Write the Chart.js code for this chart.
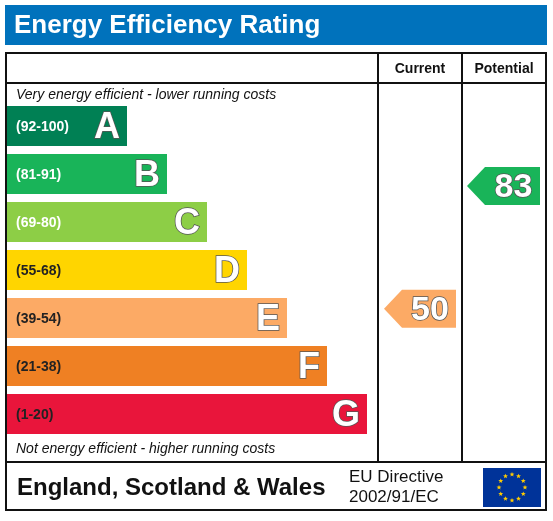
<!DOCTYPE html>
<html><head><meta charset="utf-8">
<script src="https://cdn.jsdelivr.net/npm/chart.js@4"></script>
<style>html,body{margin:0;padding:0;background:#fff}#wrap{width:553px;height:521px}</style>
</head><body><div id="wrap"><canvas id="c" width="553" height="521"></canvas></div>
<script>
const bandLetters = ['A','B','C','D','E','F','G'];
const bandRanges = ['(92-100)','(81-91)','(69-80)','(55-68)','(39-54)','(21-38)','(1-20)'];
const bandMin = [92,81,69,55,39,21,1];
const bandMax = [100,91,80,68,54,38,20];
const bandLengths = [3,4,5,6,7,8,9];
const bandColors = ['#008054','#19b459','#8dce46','#ffd500','#fcaa65','#ef8023','#e9153b'];
const rangeTextColors = ['#fff','#fff','#fff','#222','#222','#222','#222'];
const currentRating = [50];
const potentialRating = [83];

function bandOf(v){for(let i=0;i<7;i++){if(v>=bandMin[i]&&v<=bandMax[i])return i;}return 6;}

const epc = {
  id:'epc',
  beforeDraw(chart){
    const c=chart.ctx;
    c.save();
    c.fillStyle='#fff';c.fillRect(0,0,553,521);
    c.fillStyle='#0072bc';c.fillRect(5,5,542,40);
    c.fillStyle='#fff';c.font='bold 26px "Liberation Sans", Arial';c.textBaseline='middle';
    c.fillText('Energy Efficiency Rating',14,26);
    c.strokeStyle='#111';c.lineWidth=2;
    c.strokeRect(6,53,540,457);
    c.beginPath();
    c.moveTo(6,83);c.lineTo(546,83);
    c.moveTo(6,462);c.lineTo(546,462);
    c.moveTo(378,53);c.lineTo(378,462);
    c.moveTo(462,53);c.lineTo(462,462);
    c.stroke();
    c.fillStyle='#111';c.font='bold 14px "Liberation Sans", Arial';c.textAlign='center';
    c.fillText('Current',420,69);c.fillText('Potential',504,69);
    c.textAlign='left';c.font='italic 14px "Liberation Sans", Arial';
    c.fillText('Very energy efficient - lower running costs',16,95);
    c.fillText('Not energy efficient - higher running costs',16,449);
    c.font='bold 24px "Liberation Sans", Arial';
    c.fillText('England, Scotland & Wales',17,488);
    c.font='17px "Liberation Sans", Arial';
    c.fillText('EU Directive',349,477);c.fillText('2002/91/EC',349,497);
    c.fillStyle='#003399';c.fillRect(483,468,58,39);
    c.fillStyle='#ffcc00';
    for(let k=0;k<12;k++){const a=k*Math.PI/6;const x=512+13*Math.cos(a),y=487.5+13*Math.sin(a);
      c.beginPath();for(let j=0;j<10;j++){const r=j%2?1.1:2.6;const b=-Math.PI/2+j*Math.PI/5;c.lineTo(x+r*Math.cos(b),y+r*Math.sin(b));}c.fill();}
    c.restore();
  },
  afterDatasetsDraw(chart){
    const c=chart.ctx, ys=chart.scales.y;
    const meta=chart.getDatasetMeta(0);
    c.save();c.textBaseline='middle';
    meta.data.forEach((bar,i)=>{
      c.fillStyle=rangeTextColors[i];c.font='bold 14px "Liberation Sans", Arial';c.textAlign='left';
      c.fillText(bandRanges[i],16,bar.y+1);
      c.font='bold 36px "Liberation Sans", Arial';c.textAlign='right';
      c.lineWidth=1.5;c.strokeStyle='#555';c.fillStyle='#fff';
      c.strokeText(bandLetters[i],bar.x-7,bar.y+2);c.fillText(bandLetters[i],bar.x-7,bar.y+2);
    });
    function arrow(v,left,right){
      const i=bandOf(v);const bh=meta.data[i].height;
      const frac=(v-bandMin[i])/(bandMax[i]-bandMin[i]);
      const yc=ys.getPixelForValue(i)+(0.5-frac)*bh;
      const h=38;
      c.fillStyle=bandColors[i];
      c.beginPath();c.moveTo(left,yc);c.lineTo(left+18,yc-h/2);c.lineTo(right,yc-h/2);c.lineTo(right,yc+h/2);c.lineTo(left+18,yc+h/2);c.closePath();c.fill();
      c.font='bold 34px "Liberation Sans", Arial';c.textAlign='center';
      c.lineWidth=1.5;c.strokeStyle='#555';c.fillStyle='#fff';
      c.strokeText(String(v),(left+18+right)/2+1,yc+2);c.fillText(String(v),(left+18+right)/2+1,yc+2);
    }
    currentRating.forEach(v=>arrow(v,384,456));
    potentialRating.forEach(v=>arrow(v,467,540));
    c.restore();
  }
};

new Chart(document.getElementById('c'),{
  type:'bar',
  data:{labels:bandLetters,datasets:[{data:bandLengths,backgroundColor:bandColors,borderWidth:0,categoryPercentage:1,barPercentage:40/48}]},
  options:{indexAxis:'y',responsive:false,animation:false,
    layout:{padding:{left:7,right:176,top:102,bottom:83}},
    scales:{x:{display:false,min:0,max:9.25},y:{display:false}},
    plugins:{legend:{display:false},tooltip:{enabled:false}}},
  plugins:[epc]
});
</script></body></html>
